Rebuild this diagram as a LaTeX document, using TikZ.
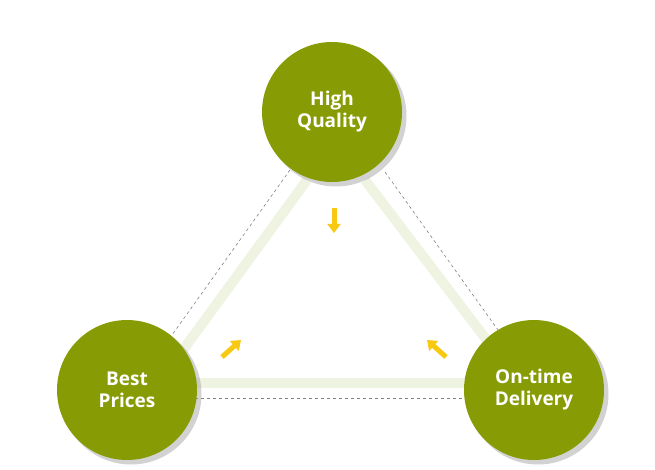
\documentclass[tikz,border=0pt]{standalone}
\usepackage{fontspec}
\setmainfont{Open Sans}
\usetikzlibrary{arrows.meta}
\definecolor{olive}{HTML}{879C04}
\definecolor{pale}{HTML}{EFF3E2}
\definecolor{gold}{HTML}{F7C913}
\tikzset{
  ball/.style={circle,fill=olive,minimum size=140pt,inner sep=0pt,text=white,font=\bfseries\fontsize{19}{22}\selectfont,align=center},
  shade/.style={circle,fill=black!35,opacity=0.5,minimum size=141pt,inner sep=0pt},
  band/.style={pale,line width=10pt},
  dline/.style={gray,dashed,line width=0.6pt},
  yarrow/.style={gold,line width=5pt,-{Triangle[width=13pt,length=9pt]}}
}
\begin{document}
\begin{tikzpicture}[x=1pt,y=-1pt]
\useasboundingbox (0,0) rectangle (655,470);
\coordinate (lt) at (307,180); \coordinate (lb) at (183,350);
\coordinate (rt) at (365,180); \coordinate (rb) at (492,347);
\coordinate (bl) at (190,383); \coordinate (br) at (470,383);
\draw[band] (lt) -- (lb); \draw[band] (rt) -- (rb); \draw[band] (bl) -- (br);
\coordinate (dlt) at (290,170); \coordinate (dlb) at (172,335);
\coordinate (drt) at (385,172); \coordinate (drb) at (498,330);
\coordinate (dbl) at (195,398); \coordinate (dbr) at (468,398);
\draw[dline] (dlt) -- (dlb); \draw[dline] (drt) -- (drb); \draw[dline] (dbl) -- (dbr);
\coordinate (a1s) at (334,208); \coordinate (a1e) at (334,233);
\coordinate (a2s) at (222,357); \coordinate (a2e) at (241,340);
\coordinate (a3s) at (446,357); \coordinate (a3e) at (427,340);
\draw[yarrow] (a1s) -- (a1e); \draw[yarrow] (a2s) -- (a2e); \draw[yarrow] (a3s) -- (a3e);
\node[shade] (s1) at (336,116) {};
\node[shade] (s2) at (131,394) {};
\node[shade] (s3) at (538,394) {};
\node[ball] (hq) at (332,112) {High\\Quality};
\node[ball] (bp) at (127,390) {Best\\Prices};
\node[ball] (od) at (534,390) {On-time\\Delivery};
\end{tikzpicture}
\end{document}
